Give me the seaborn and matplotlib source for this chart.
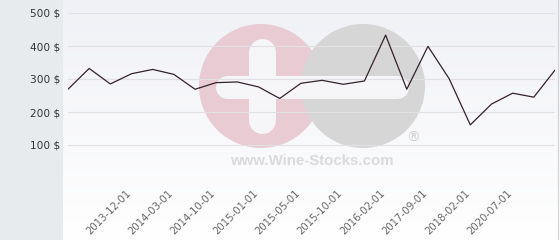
import numpy as np
import pandas as pd
import matplotlib
matplotlib.use("Agg")
import matplotlib.pyplot as plt
import matplotlib.transforms as mtransforms
import seaborn as sns
from matplotlib.patches import Circle, Rectangle

# ---- data ----
prices = [269, 332, 285, 316, 329, 314, 269, 289, 291, 276, 241, 287,
          296, 284, 294, 433, 269, 399, 301, 161, 224, 257, 245, 327]
tick_index = [3, 5, 7, 9, 11, 13, 15, 17, 19, 21]
tick_labels = ["2013-12-01", "2014-03-01", "2014-10-01", "2015-01-01",
               "2015-05-01", "2015-10-01", "2016-02-01", "2017-09-01",
               "2018-02-01", "2020-07-01"]
y_ticks = [0, 100, 200, 300, 400, 500]
y_labels = ["", "100 $", "200 $", "300 $", "400 $", "500 $"]

df = pd.DataFrame({"idx": np.arange(len(prices)), "price": prices})

sns.set_theme(style="white")
plt.rcParams["font.family"] = ["DejaVu Sans"]

W, H = 560, 240
fig = plt.figure(figsize=(W / 100, H / 100), dpi=100)

# ---- background layer in pixel coordinates ----
bg = fig.add_axes([0, 0, 1, 1], zorder=0)
bg.set_xlim(0, W)
bg.set_ylim(H, 0)
bg.axis("off")
top = np.array([240, 241, 246]) / 255
bot = np.array([255, 255, 255]) / 255
t = np.linspace(0, 1, 256)[:, None]
grad = top[None, None, :] * (1 - t[:, :, None]) + bot[None, None, :] * t[:, :, None]
grad = np.repeat(grad, 2, axis=1)
bg.imshow(grad, extent=(0, W, H, 0), aspect="auto", zorder=0)
bg.add_patch(Rectangle((0, 0), 63, H, color="#e8ebee", zorder=1, lw=0))
bg.plot([557.5, 557.5], [0, H], color="#cfd2d6", lw=0.8, zorder=1)

# watermark
bg.add_patch(Circle((261, 86), 62, color="#e9cbd3", lw=0, zorder=2))
bg.add_patch(Circle((363, 86), 62, color="#d6d6d6", lw=0, zorder=3))
wcol = "#f6f6f9"
bg.plot([261.5, 261.5], [38 + 13.5, 133 - 13.5], color=wcol,
        lw=27 * 0.72, solid_capstyle="round", zorder=4)
bg.plot([215 + 11.5, 408 - 11.5], [86.5, 86.5], color=wcol,
        lw=23 * 0.72, solid_capstyle="round", zorder=4)
bg.text(413, 138, "®", color="#d2d2d2", fontsize=10, ha="center",
        va="center", zorder=4)
bg.text(312, 161, "www.Wine-Stocks.com", color="#dadada", fontsize=10.8,
        fontweight="bold", family="Liberation Sans", ha="center",
        va="center", zorder=4)

# ---- main chart ----
ax = fig.add_axes([68 / W, 62 / H, 487 / W, 165 / H], zorder=1)
ax.patch.set_alpha(0)
sns.lineplot(data=df, x="idx", y="price", ax=ax, color="#33222d",
             lw=0.9, zorder=5)
ax.set_xlim(0, len(prices) - 1)
ax.set_ylim(0, 500)
ax.set_yticks(y_ticks)
ax.set_yticklabels(y_labels)
ax.set_xticks(tick_index)
ax.set_xticklabels(tick_labels, rotation=45, ha="right",
                   rotation_mode="anchor")
ax.tick_params(axis="y", length=0, pad=5.8, labelsize=7.6,
               labelcolor="#333333")
ax.tick_params(axis="x", length=0, pad=7, labelsize=7.3,
               labelcolor="#666666")
offset = mtransforms.ScaledTranslation(-6 / 100, 0, fig.dpi_scale_trans)
for lab in ax.get_xticklabels():
    lab.set_transform(lab.get_transform() + offset)
ax.yaxis.grid(True, color="#e1e1e4", lw=0.8)
ax.xaxis.grid(False)
for s in ax.spines.values():
    s.set_visible(False)
ax.set_xlabel("")
ax.set_ylabel("")

fig.savefig("out.png", dpi=100)
